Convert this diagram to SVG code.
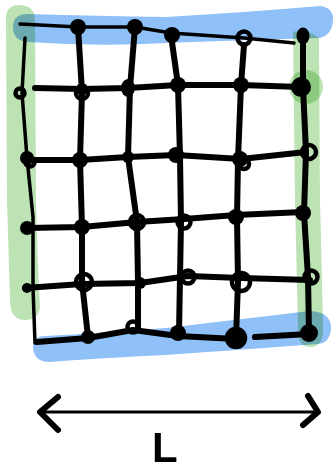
<svg xmlns="http://www.w3.org/2000/svg" width="336" height="470" viewBox="0 0 336 470">
<style>
.g{fill:#bde3b4;mix-blend-mode:multiply}
.b{fill:#90c0f8;mix-blend-mode:multiply}
.ln{fill:none;stroke:#000;stroke-width:6;stroke-linecap:round;stroke-linejoin:round}
.thin{fill:none;stroke:#000;stroke-width:3.5;stroke-linecap:round;stroke-linejoin:round}
.d{fill:#000}
.r{fill:none;stroke:#000;stroke-width:4.5}
</style>
<rect width="336" height="470" fill="#fff"/>
<g id="bands">
<path class="g" d="M6,18 Q6,5 20,5 Q35,6 35,20 L36,200 Q38,280 40,305 Q40,320 25,320 Q10,320 10,300 L7,200 Z"/>
<path class="g" d="M293,32 Q306,28 319,38 L320,200 Q322,280 323,330 Q323,347 310,347 Q298,347 298,330 L295,200 Z"/>
<circle class="g" cx="306" cy="87" r="17"/>
<path class="b" d="M13,27 Q13,14 28,14 Q100,16 166,17 Q250,12 320,6 Q334,8 333,20 Q332,35 320,38 Q250,40 166,43 Q100,47 28,42 Q13,41 13,27 Z"/>
<path class="b" d="M33,348 Q33,336 45,336 Q100,333 166,328 Q250,318 310,311 Q331,312 331,328 Q330,343 318,344 Q250,349 166,355 Q100,358 50,362 Q34,362 33,348 Z"/>
</g>
<g id="grid">
<polyline class="thin" points="20,24 78,27 135,27 171,33 244,38 294,43"/>
<polyline class="ln" points="35,88 82,89 128,88 178,85 241,85 301,87"/>
<polyline class="ln" points="25,160 80,160 128,157 176,155 241,159 306,152"/>
<polyline class="ln" points="27,228 82,227 137,222 184,219 236,215 303,212"/>
<polyline class="ln" points="25,288 82,284 140,283 188,276 241,278 310,280"/>
<polyline class="ln" points="37,342 88,338 133,330 178,336 236,339"/>
<polyline class="ln" points="255,337 309,334"/>
<polyline class="thin" points="25,38 22,93 27,158 33,217 33,288 35,343"/>
<polyline class="ln" points="78,27 82,92 80,160 82,227 82,282 88,337"/>
<polyline class="ln" points="135,27 130,88 128,157 137,222 138,283 138,328"/>
<polyline class="ln" points="171,35 178,85 180,157 181,222 180,277 179,333"/>
<polyline class="ln" points="244,45 241,85 238,160 237,217 238,282 236,338"/>
<polyline class="ln" points="303,35 303,87 306,152 304,213 308,277 309,333"/>
</g>
<g id="dots">
<circle class="d" cx="78" cy="27" r="8"/>
<circle class="d" cx="135" cy="27" r="8"/>
<circle class="d" cx="172" cy="35" r="8"/>
<circle class="r" cx="244" cy="38" r="6.5"/>
<ellipse class="d" cx="303" cy="36" rx="6.5" ry="8.5"/>
<circle class="r" cx="20" cy="93" r="4.5"/>
<circle class="r" cx="82" cy="93" r="6"/>
<circle class="d" cx="82" cy="89" r="6"/>
<ellipse class="d" cx="128" cy="88" rx="7" ry="9"/>
<circle class="d" cx="178" cy="85" r="8"/>
<circle class="d" cx="241" cy="85" r="8"/>
<circle class="d" cx="301" cy="87" r="10"/>
<circle class="d" cx="27" cy="158" r="7"/>
<circle class="r" cx="30" cy="162" r="4.5"/>
<circle class="d" cx="80" cy="160" r="8"/>
<circle class="d" cx="128" cy="157" r="6"/>
<circle class="d" cx="176" cy="155" r="8"/>
<circle class="d" cx="240" cy="159" r="8"/>
<circle class="r" cx="244" cy="164" r="5"/>
<circle class="r" cx="309" cy="152" r="7"/>
<circle class="d" cx="27" cy="228" r="7"/>
<circle class="d" cx="82" cy="227" r="8"/>
<circle class="r" cx="137" cy="222" r="7"/>
<circle class="r" cx="184" cy="222" r="6.5"/>
<circle class="d" cx="236" cy="217" r="8"/>
<circle class="d" cx="303" cy="213" r="8"/>
<circle class="d" cx="27" cy="288" r="5"/>
<circle class="r" cx="84" cy="282" r="8"/>
<circle class="d" cx="140" cy="283" r="6"/>
<circle class="r" cx="188" cy="277" r="6.5"/>
<circle class="r" cx="241" cy="282" r="9"/>
<circle class="r" cx="311" cy="277" r="6.5"/>
<circle class="d" cx="88" cy="337" r="7"/>
<circle class="r" cx="133" cy="327" r="5.5"/>
<circle class="d" cx="178" cy="333" r="8"/>
<circle class="d" cx="236" cy="338" r="8"/>
<circle class="r" cx="236" cy="338" r="9"/>
<circle class="d" cx="309" cy="333" r="9"/>
</g>
<g id="arrow">
<line x1="40" y1="412" x2="317" y2="412" stroke="#000" stroke-width="3"/>
<polyline points="58,397 40,412 58,430" fill="none" stroke="#000" stroke-width="6" stroke-linecap="round" stroke-linejoin="round"/>
<polyline points="308,396 318,412 303,425" fill="none" stroke="#000" stroke-width="6" stroke-linecap="round" stroke-linejoin="round"/>
</g>
<text x="152" y="462" font-family="Liberation Sans, Arial, sans-serif" font-weight="bold" font-size="42" fill="#000">L</text>
</svg>
